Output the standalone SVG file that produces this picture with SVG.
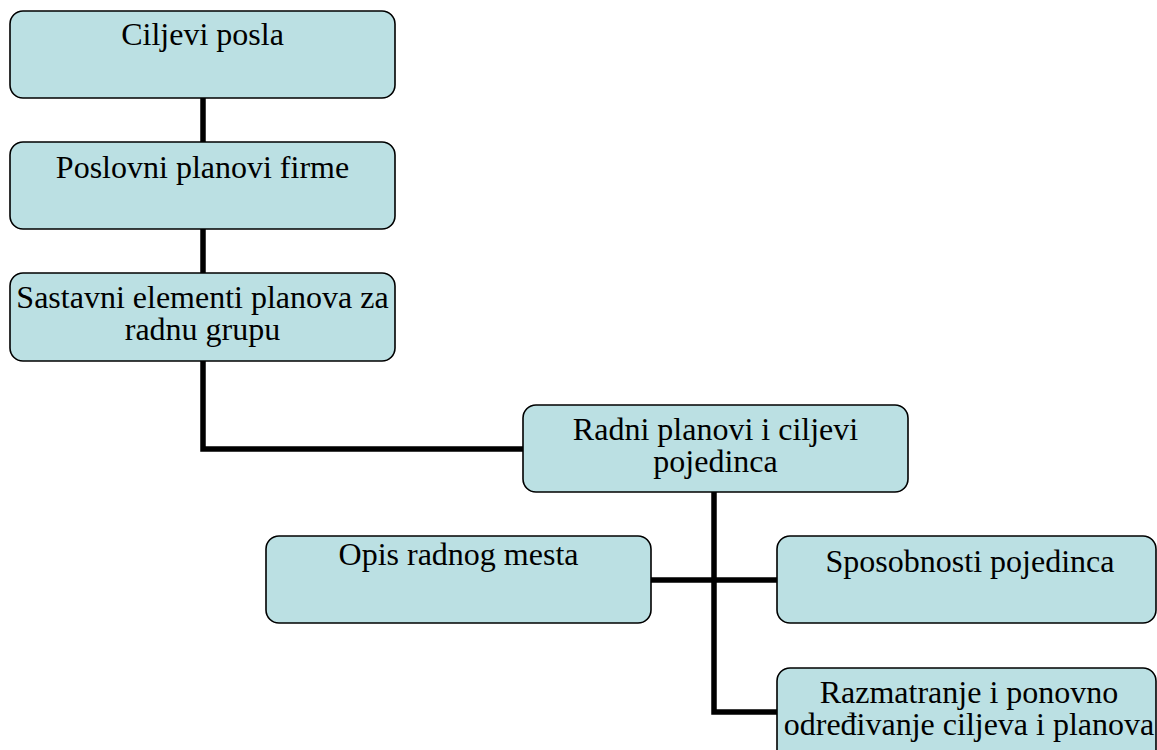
<svg xmlns="http://www.w3.org/2000/svg" width="1157" height="750" viewBox="0 0 1157 750">
<style>
.box{fill:#BBE0E3;stroke:#000;stroke-width:1.6}
.t{font-family:'Liberation Serif','Times New Roman',serif;font-size:32px;fill:#000;text-anchor:middle}
.c{fill:none;stroke:#000;stroke-width:5.5;stroke-linejoin:miter}
</style>
<rect width="1157" height="750" fill="#fff"/>
<g id="connectors">
<line class="c" x1="203" y1="98" x2="203" y2="142"/>
<line class="c" x1="203" y1="229" x2="203" y2="273"/>
<polyline class="c" points="203,361 203,449 523,449"/>
<line class="c" x1="714" y1="492" x2="714" y2="580"/>
<line class="c" x1="651" y1="580" x2="777" y2="580"/>
<polyline class="c" points="714,580 714,712 777,712"/>
</g>
<g id="n1"><rect class="box" x="10" y="11" width="385" height="87" rx="13"/><text class="t" x="202.5" y="45">Ciljevi posla</text></g>
<g id="n2"><rect class="box" x="10" y="142" width="385" height="87" rx="13"/><text class="t" x="202.5" y="178">Poslovni planovi firme</text></g>
<g id="n3"><rect class="box" x="10" y="273" width="385" height="88" rx="13"/><text class="t" x="202.5" y="308">Sastavni elementi planova za</text><text class="t" x="202.5" y="340">radnu grupu</text></g>
<g id="n4"><rect class="box" x="523" y="405" width="385" height="87" rx="13"/><text class="t" x="715.5" y="440">Radni planovi i ciljevi</text><text class="t" x="715.5" y="472">pojedinca</text></g>
<g id="n5"><rect class="box" x="266" y="536" width="385" height="87" rx="13"/><text class="t" x="458.5" y="565">Opis radnog mesta</text></g>
<g id="n6"><rect class="box" x="777" y="536" width="379" height="87" rx="13"/><text class="t" x="970" y="572">Sposobnosti pojedinca</text></g>
<g id="n7"><rect class="box" x="777" y="668" width="379" height="95" rx="13"/><text class="t" x="969" y="703">Razmatranje i ponovno</text><text class="t" x="969" y="735">određivanje ciljeva i planova</text></g>
</svg>
